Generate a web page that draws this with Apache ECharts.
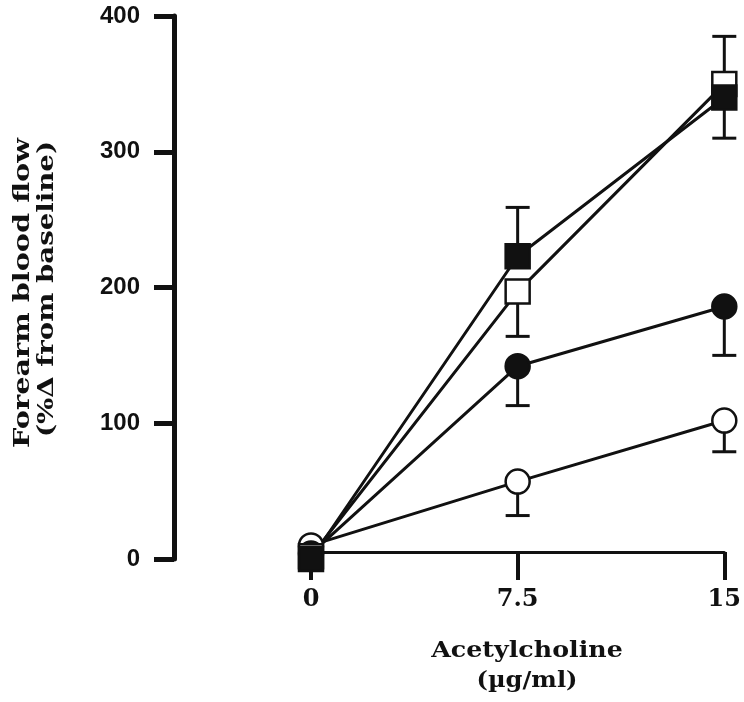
<!DOCTYPE html>
<html>
<head>
<meta charset="utf-8">
<script src="https://cdn.jsdelivr.net/npm/echarts@6/dist/echarts.min.js"></script>
<style>html,body{margin:0;padding:0;background:#fff;}#c{width:744px;height:702px;}</style>
</head>
<body>
<div id="c"></div>
<script>
// Data
const doses = [0, 7.5, 15];
const xTickLabels = ['0', '7.5', '15'];
const yTickLabels = ['0', '100', '200', '300', '400'];
const openCircle = [10, 57, 102];
const filledCircle = [4, 142, 186];
const openSquare = [2, 197, 350];
const filledSquare = [0, 223, 340];
// error bar ends (one-sided), null = none
const openCircleErr = [null, 32, 79];
const filledCircleErr = [null, 113, 150];
const openSquareErr = [null, 164, 385];
const filledSquareErr = [null, 259, 310];

const chart = echarts.init(document.getElementById('c'));

function pairs(vals) { return doses.map((d, i) => [d, vals[i]]); }
function errData(vals, errs) {
  const out = [];
  doses.forEach((d, i) => { if (errs[i] != null) out.push([d, vals[i], errs[i]]); });
  return out;
}
function errSeries(vals, errs) {
  return {
    type: 'custom',
    z: 1,
    data: errData(vals, errs),
    renderItem: function (params, api) {
      const x = api.value(0);
      const c = api.coord([x, api.value(1)]);
      const e = api.coord([x, api.value(2)]);
      const hw = 12;
      const st = { stroke: '#111', lineWidth: 3 };
      return {
        type: 'group',
        children: [
          { type: 'line', shape: { x1: c[0], y1: c[1], x2: e[0], y2: e[1] }, style: st },
          { type: 'line', shape: { x1: e[0] - hw, y1: e[1], x2: e[0] + hw, y2: e[1] }, style: st }
        ]
      };
    }
  };
}
function lineSeries(vals, symbol, filled) {
  return {
    type: 'line',
    z: 3,
    data: pairs(vals),
    symbol: symbol,
    symbolSize: 24,
    showAllSymbol: true,
    lineStyle: { color: '#111', width: 3 },
    itemStyle: { color: filled ? '#111' : '#fff', borderColor: '#111', borderWidth: 2.5 },
    emphasis: { disabled: true },
    animation: false
  };
}

const option = {
  backgroundColor: '#fff',
  animation: false,
  grid: { left: 311, right: 11, top: 16, bottom: 143 },
  xAxis: {
    type: 'value', min: 0, max: 15, interval: 7.5, offset: -7,
    splitLine: { show: false },
    axisLine: { onZero: false, lineStyle: { color: '#111', width: 3 } },
    axisTick: { length: 28, lineStyle: { color: '#111', width: 4 } },
    axisLabel: {
      margin: 36, color: '#111', fontSize: 24, fontWeight: 'bold', fontFamily: 'DejaVu Serif',
      formatter: v => { const i = doses.indexOf(v); return i >= 0 ? xTickLabels[i] : ''; }
    }
  },
  yAxis: {
    type: 'value', min: 0, max: 400, interval: 100, offset: 137,
    splitLine: { show: false },
    axisLine: { show: true, onZero: false, lineStyle: { color: '#111', width: 5 } },
    axisTick: { show: true, length: 20, lineStyle: { color: '#111', width: 5 } },
    axisLabel: {
      margin: 34, color: '#111', fontSize: 24, fontWeight: 'bold', fontFamily: 'Arial, "Liberation Sans", sans-serif',
      formatter: v => yTickLabels[Math.round(v / 100)]
    }
  },
  graphic: [
    { type: 'text', x: 527, y: 651, scaleX: 1.1,
      style: { text: 'Acetylcholine', fill: '#111', font: 'bold 23px "DejaVu Serif"', textAlign: 'center', textVerticalAlign: 'middle' } },
    { type: 'text', x: 527, y: 681, scaleX: 1.05,
      style: { text: '(\u00b5g/ml)', fill: '#111', font: 'bold 23px "DejaVu Serif"', textAlign: 'center', textVerticalAlign: 'middle' } },
    { type: 'text', x: 23, y: 293, rotation: Math.PI / 2, scaleX: 1.25,
      style: { text: 'Forearm blood flow', fill: '#111', font: 'bold 23px "DejaVu Serif"', textAlign: 'center', textVerticalAlign: 'middle' } },
    { type: 'text', x: 47, y: 289, rotation: Math.PI / 2, scaleX: 1.2,
      style: { text: '(%\u0394 from baseline)', fill: '#111', font: 'bold 23px "DejaVu Serif"', textAlign: 'center', textVerticalAlign: 'middle' } }
  ],
  series: [
    errSeries(openCircle, openCircleErr),
    errSeries(filledCircle, filledCircleErr),
    errSeries(openSquare, openSquareErr),
    errSeries(filledSquare, filledSquareErr),
    lineSeries(openCircle, 'circle', false),
    lineSeries(filledCircle, 'circle', true),
    lineSeries(openSquare, 'rect', false),
    lineSeries(filledSquare, 'rect', true)
  ]
};
chart.setOption(option);
</script>
</body>
</html>
